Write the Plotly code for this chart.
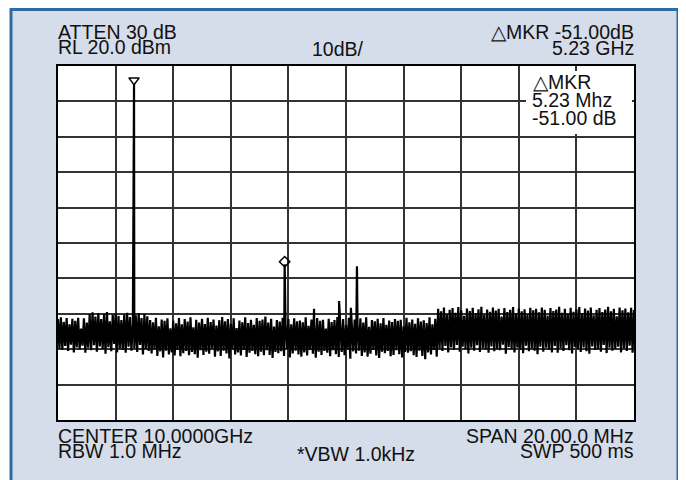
import numpy as np
import plotly.graph_objects as go

# ---- data ----
center_mhz = 10000.0
span_mhz = 20.0
ref_level_dbm = 20.0
db_per_div = 10.0
n_points = 401

noise_a = [-51.5, -59.8, -51.0, -60.2, -52.3, -59.1, -51.2, -60.5, -53.0, -58.7, -51.4,
           -60.9, -52.0, -59.5, -51.1, -60.1, -54.2, -59.0, -51.3, -61.0, -52.5, -59.6]
noise_b = [-50.1, -60.3, -49.6, -58.9, -50.8, -60.7, -49.8, -59.2, -51.5, -60.0, -50.0,
           -61.3, -49.5, -59.4, -52.1, -60.6, -50.3, -58.5, -49.9, -60.9, -50.6, -59.8,
           -51.8, -60.2, -50.2, -61.0, -49.7, -59.3, -50.9, -60.4, -52.6, -59.7, -50.4,
           -60.8, -49.8, -58.8, -51.2, -61.5, -50.0, -59.9, -50.7, -60.5]
noise_c = [-51.8, -61.2, -52.4, -60.1, -51.1, -61.9, -53.5, -60.6, -51.6, -62.3,
           -52.0, -60.4, -51.3, -61.5, -54.1, -60.9, -51.9, -61.8, -52.7, -60.2,
           -51.2, -62.0, -53.0, -61.1, -51.5, -60.5, -52.2, -61.7, -51.0, -60.8,
           -53.8, -61.4, -51.7, -62.4, -52.5, -60.3, -51.4, -61.6, -52.9, -60.7,
           -51.1, -61.3, -52.3, -59.8, -51.6, -62.1, -53.3, -60.6, -51.8, -61.9,
           -50.9, -60.4, -52.1, -61.2, -51.5, -62.6, -52.8, -60.1, -51.3, -61.5,
           -54.0, -60.9, -51.9, -61.8, -52.4, -60.2, -51.0, -62.2, -52.6, -61.0,
           -51.7, -60.5, -53.1, -61.4, -51.2, -62.0, -52.0, -60.7, -51.6, -61.7,
           -50.8, -60.3, -52.5, -61.6, -51.4, -62.5, -53.6, -60.8, -51.8, -61.1,
           -52.2, -60.6, -51.1, -61.9, -52.7, -60.0, -51.5, -62.3, -53.0, -61.2,
           -51.3, -60.4, -52.1, -61.5, -51.9, -62.1, -52.4, -60.9, -51.0, -61.8,
           -53.4, -60.2, -51.6, -61.3, -52.8, -62.4, -51.2, -60.7, -52.0, -61.6,
           -51.7, -60.5, -54.2, -61.0, -51.4, -62.0, -52.3, -60.3, -51.8, -61.4,
           -50.9, -62.2, -52.6, -60.8, -51.5, -61.7, -53.2, -60.1, -51.1, -62.7,
           -52.2, -60.6, -51.6, -61.2, -52.9, -60.4, -51.3, -61.9, -52.5, -60.9,
           -51.0, -62.1, -53.7, -61.3, -51.8, -60.2, -52.1, -61.8, -51.4, -62.5,
           -52.7, -60.7, -51.2, -61.1, -53.1, -60.5, -51.9, -62.0, -52.3, -61.6,
           -51.5, -60.3, -52.0, -61.4, -51.7, -62.3, -53.5, -60.8, -51.1, -61.0,
           -52.4, -60.6, -51.6, -61.7, -52.8, -62.2, -51.3, -60.4, -52.2, -61.9,
           -51.8, -62.8, -52.6, -60.9, -51.0, -61.5, -53.0, -60.2, -51.4, -62.1]
noise_d = [-48.6, -59.8, -49.3, -60.5, -48.2, -59.1, -50.1, -60.9, -48.9, -59.5,
           -48.4, -60.2, -49.7, -58.8, -48.1, -60.7, -49.0, -59.3, -50.6, -60.0,
           -48.5, -61.2, -49.2, -59.6, -48.3, -60.4, -49.8, -58.9, -48.7, -60.8,
           -48.0, -59.7, -50.3, -60.1, -48.8, -61.0, -49.4, -59.2, -48.2, -60.6,
           -49.1, -59.9, -48.6, -60.3, -50.8, -58.7, -48.4, -61.3, -49.5, -59.4,
           -48.9, -60.0, -48.1, -60.9, -49.9, -59.5, -48.5, -60.2, -49.3, -61.1,
           -48.7, -59.0, -50.2, -60.6, -48.3, -59.8, -49.0, -60.4, -48.6, -61.4,
           -49.6, -59.3, -48.2, -60.7, -48.9, -59.6, -50.5, -60.1, -48.4, -60.9,
           -49.2, -59.1, -48.8, -61.0, -48.0, -59.7, -49.7, -60.5, -48.6, -58.9,
           -50.0, -60.3, -48.3, -61.2, -49.4, -59.4, -48.7, -60.0, -48.1, -60.8,
           -49.8, -59.5, -48.5, -60.6, -49.1, -61.3, -48.2, -59.2, -50.4, -60.2,
           -48.9, -59.9, -48.4, -60.7, -49.5, -58.8, -48.8, -61.1, -48.0, -59.6,
           -49.3, -60.4, -48.6, -60.0, -50.7, -59.3, -48.2, -60.9, -49.0, -59.7,
           -48.5, -60.5, -49.6, -59.0, -48.3, -61.0, -48.9]

spike_freq = [9992.64, 9997.87, 9998.89, 9999.76, 10000.17, 10000.38]
spike_level = [15.0, -36.0, -48.6, -46.4, -48.3, -36.6]

marker1 = (9992.64, 16.0)
marker2 = (9997.87, -35.3)

# ---- build trace ----
f0 = center_mhz - span_mhz / 2
f1 = center_mhz + span_mhz / 2
sweep_freq = np.linspace(f0, f1, n_points)
sweep_level = np.array(noise_a + noise_b + noise_c + noise_d)
all_f = np.concatenate([sweep_freq, np.array(spike_freq)])
all_l = np.concatenate([sweep_level, np.array(spike_level)])
order = np.argsort(all_f, kind="stable")
all_f = all_f[order]
all_l = all_l[order]

OFF = 8  # page body margin
W, H = 678, 472
L, R, T, B = 50, 52, 58, 60
pw, ph = W - L - R, H - T - B


def px(x):  # absolute screen x -> paper
    return (x - OFF - L) / pw


def py(y):  # absolute screen y -> paper
    return (H - B - (y - OFF)) / ph


fig = go.Figure()
fig.add_trace(go.Scatter(x=all_f, y=all_l, mode="lines",
                         line=dict(color="black", width=2.2),
                         hoverinfo="skip", showlegend=False))
fig.add_trace(go.Scatter(x=[marker1[0]], y=[marker1[1]], mode="markers",
                         marker=dict(symbol="triangle-down-open", size=9,
                                     color="black", line=dict(width=1.5)),
                         showlegend=False, hoverinfo="skip"))
fig.add_trace(go.Scatter(x=[marker2[0]], y=[marker2[1]], mode="markers",
                         marker=dict(symbol="diamond-open", size=8,
                                     color="black", line=dict(width=1.5)),
                         showlegend=False, hoverinfo="skip"))

shapes = [
    # outer panel
    dict(type="rect", xref="paper", yref="paper", layer="below",
         x0=px(11), x1=px(678), y0=py(485), y1=py(9.5),
         fillcolor="#d5dcea", line=dict(color="#2f6aa2", width=3)),
    # shadow
    dict(type="rect", xref="paper", yref="paper", layer="below",
         x0=px(60), x1=px(636), y0=py(422), y1=py(68),
         fillcolor="#8c8c8c", line=dict(width=0)),
    # white screen
    dict(type="rect", xref="paper", yref="paper", layer="below",
         x0=0, x1=1, y0=0, y1=1,
         fillcolor="white", line=dict(width=0)),
    # marker readout box
    dict(type="rect", xref="paper", yref="paper", layer="above",
         x0=px(526), x1=px(632), y0=py(134), y1=py(71),
         fillcolor="white", line=dict(width=0)),
]

font = dict(family="Liberation Sans, Arial, Helvetica, sans-serif", size=19.5, color="#111111")


def ann(text, x, y, xanchor):
    return dict(text=text, x=px(x), y=py(y), xref="paper", yref="paper",
                xanchor=xanchor, yanchor="middle", showarrow=False,
                font=font, borderpad=0)


annotations = [
    ann("ATTEN 30 dB", 57, 32, "left"),
    ann("RL 20.0 dBm", 57, 47, "left"),
    ann("10dB/", 338, 49, "center"),
    ann("\u25b3MKR -51.00dB", 635, 32, "right"),
    ann("5.23 GHz", 635, 48, "right"),
    ann("\u25b3MKR", 532, 82, "left"),
    ann("5.23 Mhz", 531, 100, "left"),
    ann("-51.00 dB", 531, 118, "left"),
    ann("CENTER 10.0000GHz", 57, 436, "left"),
    ann("RBW 1.0 MHz", 57, 451, "left"),
    ann("*VBW 1.0kHz", 356, 454, "center"),
    ann("SPAN 20.00.0 MHz", 635, 436, "right"),
    ann("SWP 500 ms", 635, 451, "right"),
]

axis_common = dict(showgrid=True, gridcolor="#333333", gridwidth=2,
                   showticklabels=False, ticks="", zeroline=False,
                   showline=True, mirror=True, linecolor="black", linewidth=2,
                   fixedrange=True)

fig.update_layout(
    width=W, height=H,
    margin=dict(l=L, r=R, t=T, b=B),
    paper_bgcolor="white", plot_bgcolor="white",
    xaxis=dict(range=[f0, f1], tick0=f0, dtick=span_mhz / 10, **axis_common),
    yaxis=dict(range=[ref_level_dbm - 10 * db_per_div, ref_level_dbm],
               tick0=ref_level_dbm - 10 * db_per_div, dtick=db_per_div, **axis_common),
    shapes=shapes,
    annotations=annotations,
    showlegend=False,
)

fig.write_html("out.html")
